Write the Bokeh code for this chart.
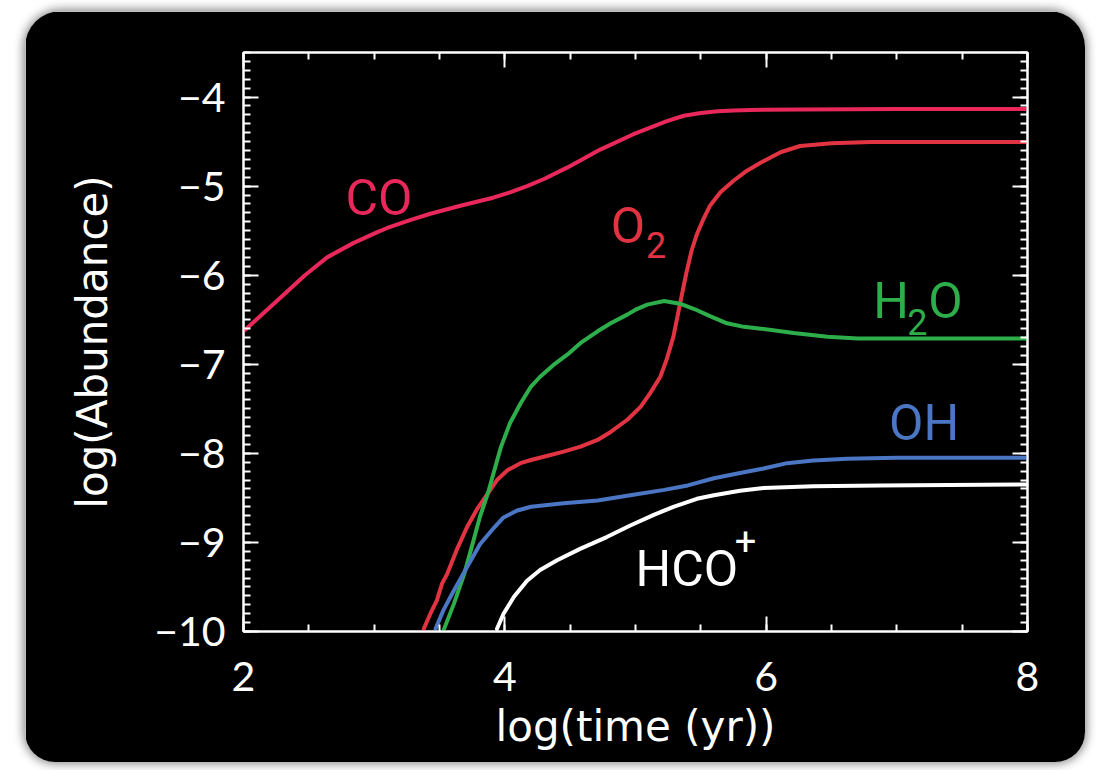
from bokeh.plotting import figure
from bokeh.models import Range1d, LinearAxis, FixedTicker
from bokeh.embed import file_html
from bokeh.resources import INLINE
from bokeh.core.properties import value

# ---------------- data ----------------
CO_x = [2.0, 2.255, 2.47, 2.64, 2.84, 3.02, 3.10, 3.28, 3.43, 3.66, 3.91, 4.04, 4.17, 4.30,
        4.48, 4.73, 4.98, 5.24, 5.37, 5.50, 5.63, 5.75, 5.88, 6.26, 7.0, 8.0]
CO_y = [-6.63, -6.29, -6.00, -5.80, -5.64, -5.52, -5.47, -5.38, -5.31, -5.22, -5.13, -5.07, -5.00, -4.92,
        -4.79, -4.59, -4.42, -4.27, -4.21, -4.18, -4.16, -4.15, -4.145, -4.14, -4.135, -4.135]

O2_x = [3.38, 3.43, 3.48, 3.52, 3.56, 3.63, 3.71, 3.79, 3.87, 3.94, 4.02, 4.12, 4.20, 4.32, 4.45, 4.58,
        4.71, 4.81, 4.94, 5.04, 5.11, 5.19, 5.24, 5.29, 5.345, 5.39, 5.43, 5.47, 5.52, 5.57,
        5.65, 5.75, 5.85, 5.96, 6.11, 6.26, 6.5, 6.8, 8.0]
O2_y = [-9.97, -9.80, -9.65, -9.46, -9.35, -9.09, -8.83, -8.62, -8.45, -8.30, -8.19, -8.11, -8.075, -8.03, -7.98, -7.925,
        -7.85, -7.76, -7.62, -7.475, -7.33, -7.14, -6.94, -6.69, -6.29, -5.97, -5.72, -5.54, -5.37, -5.22,
        -5.07, -4.94, -4.83, -4.735, -4.62, -4.55, -4.52, -4.505, -4.505]

H2O_x = [3.53, 3.61, 3.69, 3.76, 3.81, 3.87, 3.92, 3.97, 4.04, 4.12, 4.20, 4.27, 4.37, 4.48, 4.58, 4.71,
         4.81, 4.94, 5.01, 5.09, 5.22, 5.34, 5.45, 5.57, 5.70, 5.83, 5.96, 6.21, 6.47, 6.7, 8.0]
H2O_y = [-9.99, -9.69, -9.35, -8.98, -8.71, -8.45, -8.19, -7.93, -7.66, -7.44, -7.25, -7.14, -7.01, -6.89, -6.76, -6.63,
         -6.54, -6.44, -6.38, -6.33, -6.29, -6.32, -6.38, -6.46, -6.54, -6.58, -6.60, -6.65, -6.69, -6.71, -6.71]

OH_x = [3.47, 3.53, 3.61, 3.71, 3.81, 3.92, 3.99, 4.09, 4.20, 4.45, 4.71, 4.96, 5.22, 5.40, 5.60,
        5.80, 5.98, 6.16, 6.36, 6.62, 7.0, 8.0]
OH_y = [-9.97, -9.76, -9.54, -9.28, -9.02, -8.83, -8.72, -8.645, -8.60, -8.56, -8.53, -8.47, -8.41, -8.36, -8.28,
        -8.22, -8.17, -8.11, -8.08, -8.06, -8.05, -8.05]

HCO_x = [3.94, 3.99, 4.07, 4.17, 4.27, 4.40, 4.58, 4.78, 4.96, 5.14, 5.29, 5.47, 5.60, 5.80, 5.98, 6.36, 6.87, 8.0]
HCO_y = [-9.97, -9.80, -9.61, -9.43, -9.31, -9.20, -9.07, -8.94, -8.81, -8.69, -8.60, -8.51, -8.47, -8.42, -8.39, -8.37, -8.36, -8.35]

x_ticks = [2, 4, 6, 8]
x_tick_labels = ["2", "4", "6", "8"]
y_ticks = [-10, -9, -8, -7, -6, -5, -4]
y_tick_labels = ["\u221210", "\u22129", "\u22128", "\u22127", "\u22126", "\u22125", "\u22124"]
x_minor = [2 + 0.5 * i for i in range(13)]
y_minor = [round(-10 + 0.1 * i, 2) for i in range(66)]

# curve labels (annotation text, placed in data coords)
lab_text = ["CO", "O", "H", "O", "OH", "HCO"]
lab_x = [2.78, 4.81, 6.82, 7.24, 6.94, 5.00]
lab_y = [-5.13, -5.445, -6.29, -6.29, -7.66, -9.295]
sub_text = ["2", "2"]
sub_x = [5.08, 7.08]
sub_y = [-5.66, -6.52]
sup_text = ["+"]
sup_x = [5.76]
sup_y = [-8.98]

# colours
C_CO = "#e8285a"
C_O2 = "#e23342"
C_H2O = "#2eae4a"
C_OH = "#4a76c4"
C_HCO = "#ffffff"
lab_col = [C_CO, C_O2, C_H2O, C_H2O, C_OH, C_HCO]
sub_col = [C_O2, C_H2O]

TICKFONT = "Lato"
AXFONT = "DejaVu Sans"
LABFONT = "Roboto"

p = figure(width=1060, height=751,
           x_range=Range1d(2, 8), y_range=Range1d(-10, -3.5),
           output_backend="svg", toolbar_location=None,
           margin=(11, 0, 0, 25),
           min_border_left=218, min_border_right=58,
           min_border_top=41, min_border_bottom=131,
           background_fill_color="black", border_fill_color="black",
           outline_line_color="white", outline_line_width=2,
           styles={"border-radius": "36px 36px 30px 30px",
                   "overflow": "hidden",
                   "box-shadow": "0 0 10px 2px rgba(0,0,0,0.45)"})
p.grid.visible = False

def style_axis(ax, ticks, minor, labels_on):
    ax.ticker = FixedTicker(ticks=ticks, minor_ticks=minor)
    ax.axis_line_color = "white"
    ax.axis_line_width = 2
    ax.major_tick_line_color = "white"
    ax.major_tick_line_width = 2
    ax.minor_tick_line_color = "white"
    ax.minor_tick_line_width = 2
    ax.major_tick_in = 15
    ax.major_tick_out = 0
    ax.minor_tick_in = 7
    ax.minor_tick_out = 0
    if labels_on:
        ax.major_label_text_color = "white"
        ax.major_label_text_font = TICKFONT
        ax.major_label_text_font_size = "41px"
    else:
        ax.major_label_text_font_size = "1px"
        ax.major_label_text_color = None

xa = p.xaxis[0]
ya = p.yaxis[0]
style_axis(xa, x_ticks, x_minor, True)
style_axis(ya, y_ticks, y_minor, True)
xa.major_label_overrides = dict(zip(x_ticks, x_tick_labels))
ya.major_label_overrides = dict(zip(y_ticks, y_tick_labels))
xa.major_label_standoff = 30
ya.major_label_standoff = 18
xa.axis_label = "log(time (yr))"
ya.axis_label = "log(Abundance)"
for ax in (xa, ya):
    ax.axis_label_text_color = "white"
    ax.axis_label_text_font = AXFONT
    ax.axis_label_text_font_size = "42px"
    ax.axis_label_text_font_style = "normal"
xa.axis_label_standoff = 8
ya.axis_label_standoff = 34

top = LinearAxis()
right = LinearAxis()
style_axis(top, x_ticks, x_minor, False)
style_axis(right, y_ticks, y_minor, False)
p.add_layout(top, "above")
p.add_layout(right, "right")

lw = 4
series = [(CO_x, CO_y, C_CO), (O2_x, O2_y, C_O2), (H2O_x, H2O_y, C_H2O),
          (OH_x, OH_y, C_OH), (HCO_x, HCO_y, C_HCO)]
for xs, ys, col in series:
    p.line(xs, ys, line_color=col, line_width=lw, line_join="round", line_cap="round")

p.text(x=lab_x, y=lab_y, text=lab_text, text_color=lab_col,
       text_font=value(LABFONT), text_font_size="50px",
       text_align="left", text_baseline="alphabetic")
p.text(x=sub_x, y=sub_y, text=sub_text, text_color=sub_col,
       text_font=value(LABFONT), text_font_size="36px",
       text_align="left", text_baseline="alphabetic")
p.text(x=sup_x, y=sup_y, text=sup_text, text_color=C_HCO,
       text_font=value(LABFONT), text_font_size="38px",
       text_align="left", text_baseline="alphabetic")

open("out.html", "w").write(file_html(p, INLINE))
